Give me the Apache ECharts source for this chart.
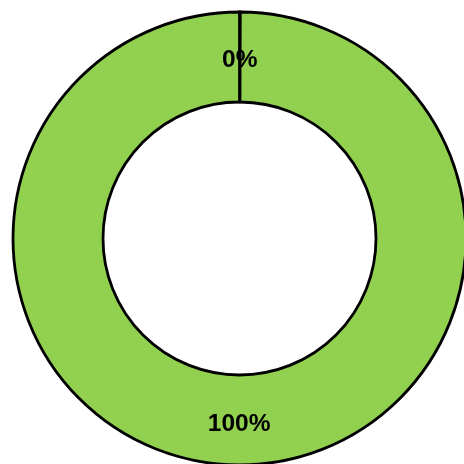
<!DOCTYPE html>
<html><head><meta charset="utf-8">
<script src="https://cdn.jsdelivr.net/npm/echarts@6/dist/echarts.min.js"></script>
<style>html,body{margin:0;padding:0;background:#fff}#c{width:464px;height:464px}</style>
</head><body><div id="c"></div>
<script>
const categories = ['A', 'B'];
const values = [0, 100];
const percentLabels = ['0%', '100%'];
const colors = ['#92D050', '#92D050'];
const labelOffsets = [[0, 6], [0, 1]];

const chart = echarts.init(document.getElementById('c'), null, {renderer: 'canvas'});
chart.setOption({
  animation: false,
  backgroundColor: '#fff',
  series: [{
    type: 'pie',
    center: [239.5, 238.5],
    radius: [136.5, 226.5],
    startAngle: 90,
    clockwise: true,
    minAngle: 0.2,
    avoidLabelOverlap: false,
    stillShowZeroSum: true,
    silent: true,
    data: categories.map((c, i) => ({
      name: c, value: values[i],
      itemStyle: {color: colors[i], borderColor: '#000', borderWidth: 2.8},
      label: {formatter: percentLabels[i], offset: labelOffsets[i]}
    })),
    label: {
      show: true, position: 'inside', color: '#000',
      fontFamily: 'Liberation Sans', fontWeight: 'bold', fontSize: 24.5
    },
    labelLine: {show: false}
  }]
});
</script></body></html>
